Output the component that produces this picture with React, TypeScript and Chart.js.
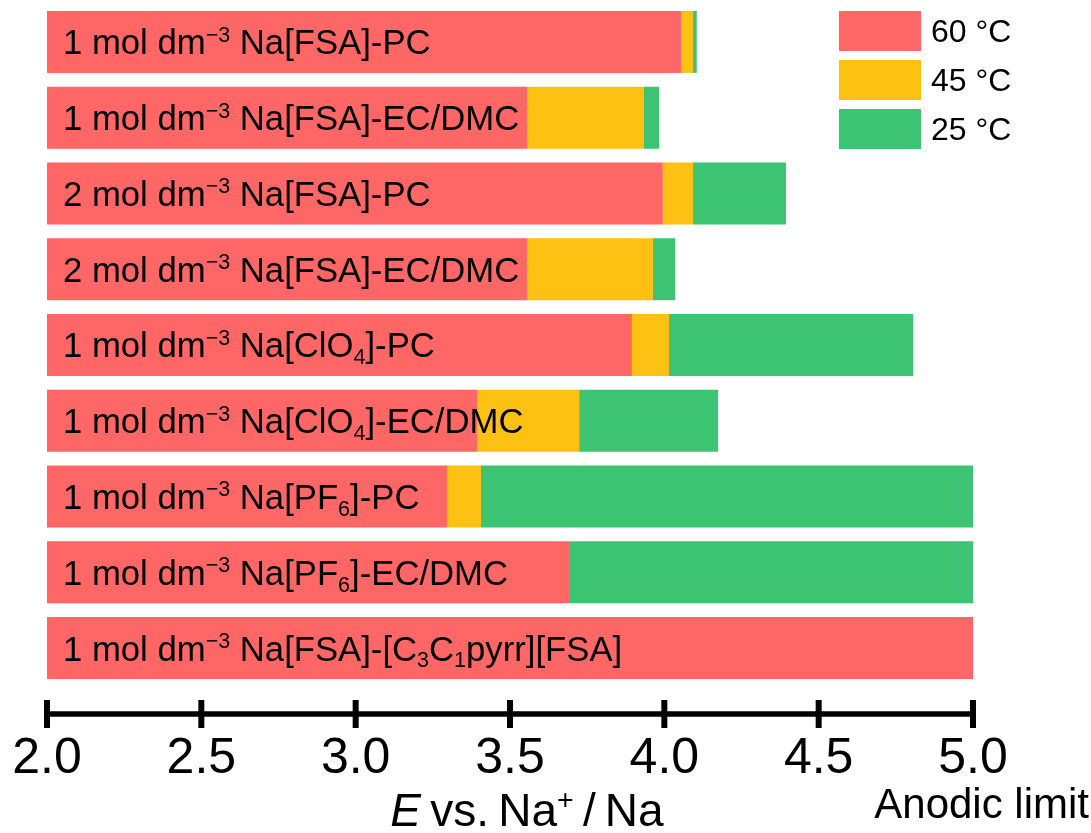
import React, { useEffect, useRef } from "react";
import { Chart, registerables } from "chart.js";

Chart.register(...registerables);

// ---------- data ----------
const categories: string[] = [
  "1 mol dm^{−3} Na[FSA]-PC",
  "1 mol dm^{−3} Na[FSA]-EC/DMC",
  "2 mol dm^{−3} Na[FSA]-PC",
  "2 mol dm^{−3} Na[FSA]-EC/DMC",
  "1 mol dm^{−3} Na[ClO_{4}]-PC",
  "1 mol dm^{−3} Na[ClO_{4}]-EC/DMC",
  "1 mol dm^{−3} Na[PF_{6}]-PC",
  "1 mol dm^{−3} Na[PF_{6}]-EC/DMC",
  "1 mol dm^{−3} Na[FSA]-[C_{3}C_{1}pyrr][FSA]",
];
const seriesLabels: string[] = ["60 °C", "45 °C", "25 °C"];
const seriesColors: string[] = ["#FF6666", "#FDC113", "#3CC472"];
const baseValue = 2.0;
const limit60: (number | null)[] = [4.054, 3.555, 3.995, 3.555, 3.895, 3.393, 3.296, 3.691, 5.0];
const limit45: (number | null)[] = [4.093, 3.934, 4.093, 3.963, 4.015, 3.724, 3.406, null, null];
const limit25: (number | null)[] = [4.105, 3.983, 4.394, 4.035, 4.806, 4.174, 5.0, 5.0, null];
const xTickValues: number[] = [2.0, 2.5, 3.0, 3.5, 4.0, 4.5, 5.0];
const xMin = 2.0;
const xMax = 5.0;
const axisTitle = "_E_\u2009vs.\u2009Na^{+}\u2009/\u2009Na";
const endNote = "Anodic limit";

// ---------- rich text helpers ----------
type Seg = { t: string; k: "n" | "sup" | "sub" | "i" };
function parseRich(s: string): Seg[] {
  const out: Seg[] = [];
  const re = /([\^_])\{([^}]*)\}|_([^_]+)_/g;
  let last = 0;
  let m: RegExpExecArray | null;
  while ((m = re.exec(s))) {
    if (m.index > last) out.push({ t: s.slice(last, m.index), k: "n" });
    if (m[3] !== undefined) out.push({ t: m[3], k: "i" });
    else out.push({ t: m[2], k: m[1] === "^" ? "sup" : "sub" });
    last = re.lastIndex;
  }
  if (last < s.length) out.push({ t: s.slice(last), k: "n" });
  return out;
}
const FAMILY = '"Liberation Sans", Arial, Helvetica, sans-serif';
function segFont(k: Seg["k"], size: number) {
  const fs = k === "sup" || k === "sub" ? size * 0.62 : size;
  return `${k === "i" ? "italic " : ""}${fs}px ${FAMILY}`;
}
function richWidth(ctx: CanvasRenderingContext2D, segs: Seg[], size: number) {
  let w = 0;
  for (const s of segs) {
    ctx.font = segFont(s.k, size);
    w += ctx.measureText(s.t).width;
  }
  return w;
}
function drawRich(ctx: CanvasRenderingContext2D, segs: Seg[], x: number, y: number, size: number) {
  ctx.textBaseline = "alphabetic";
  ctx.textAlign = "left";
  for (const s of segs) {
    ctx.font = segFont(s.k, size);
    const dy = s.k === "sup" ? -size * 0.36 : s.k === "sub" ? size * 0.2 : 0;
    ctx.fillText(s.t, x, y + dy);
    x += ctx.measureText(s.t).width;
  }
}

// ---------- plugins ----------
const decorPlugin = {
  id: "decor",
  afterDatasetsDraw(chart: any) {
    const ctx: CanvasRenderingContext2D = chart.ctx;
    const xs = chart.scales.x;
    const ys = chart.scales.y;
    ctx.save();
    ctx.fillStyle = "#000";
    const size = 34.7;
    categories.forEach((label, i) => {
      const yc = ys.getPixelForValue(i);
      drawRich(ctx, parseRich(label), xs.left + 16, yc + size * 0.716 / 2, size);
    });
    ctx.restore();
  },
  afterDraw(chart: any) {
    const ctx: CanvasRenderingContext2D = chart.ctx;
    const xs = chart.scales.x;
    const area = chart.chartArea;
    ctx.save();
    // axis line with crossing ticks
    const yAxis = area.bottom + 28;
    ctx.strokeStyle = "#000";
    ctx.lineWidth = 5.5;
    ctx.beginPath();
    ctx.moveTo(xs.getPixelForValue(xMin) - 3, yAxis);
    ctx.lineTo(xs.getPixelForValue(xMax) + 3, yAxis);
    ctx.stroke();
    ctx.lineWidth = 6;
    xTickValues.forEach((v) => {
      const px = xs.getPixelForValue(v);
      ctx.beginPath();
      ctx.moveTo(px, yAxis - 14);
      ctx.lineTo(px, yAxis + 14);
      ctx.stroke();
    });
    // axis title
    ctx.fillStyle = "#000";
    const tSize = 46;
    const tSegs = parseRich(axisTitle);
    const tw = richWidth(ctx, tSegs, tSize);
    drawRich(ctx, tSegs, 527 - tw / 2, 826, tSize);
    // end note
    ctx.font = `42px ${FAMILY}`;
    ctx.textAlign = "right";
    ctx.textBaseline = "alphabetic";
    ctx.fillText(endNote, 1089, 818);
    // legend
    const ds = chart.data.datasets;
    ds.forEach((d: any, i: number) => {
      const top = 11 + i * 49;
      ctx.fillStyle = d.backgroundColor;
      ctx.fillRect(839, top, 82, 40);
      ctx.fillStyle = "#000";
      ctx.font = `32px ${FAMILY}`;
      ctx.textAlign = "left";
      ctx.textBaseline = "alphabetic";
      ctx.fillText(d.label, 931, top + 20 + 32 * 0.716 / 2);
    });
    ctx.restore();
  },
};

export default function App() {
  const canvasRef = useRef<HTMLCanvasElement | null>(null);
  useEffect(() => {
    if (!canvasRef.current) return;
    const d60 = limit60.map((v) => (v == null ? null : [baseValue, v]));
    const d45 = limit45.map((v, i) => (v == null ? null : [limit60[i] as number, v]));
    const d25 = limit25.map((v, i) =>
      v == null ? null : [(limit45[i] ?? limit60[i]) as number, v]
    );
    const chart = new Chart(canvasRef.current, {
      type: "bar",
      data: {
        labels: categories,
        datasets: [d60, d45, d25].map((data, i) => ({
          label: seriesLabels[i],
          data: data as any,
          backgroundColor: seriesColors[i],
          borderWidth: 0,
          grouped: false,
          barPercentage: 0.818,
          categoryPercentage: 1,
        })),
      },
      options: {
        indexAxis: "y",
        animation: false,
        responsive: true,
        maintainAspectRatio: false,
        layout: { padding: { left: 47, right: 118, top: 4, bottom: 0 } },
        plugins: { legend: { display: false }, tooltip: { enabled: false } },
        scales: {
          x: {
            type: "linear",
            position: "bottom",
            min: xMin,
            max: xMax,
            grid: { display: false, drawTicks: false },
            border: { display: false },
            ticks: {
              stepSize: 0.5,
              color: "#000",
              padding: 43,
              font: { size: 50, family: FAMILY },
              callback: (v: any) => Number(v).toFixed(1),
            },
            afterFit: (scale: any) => {
              scale.height = 147;
              scale.paddingLeft = 0;
              scale.paddingRight = 0;
            },
          },
          y: {
            type: "category",
            display: false,
            offset: true,
            grid: { display: false },
          },
        },
      },
      plugins: [decorPlugin],
    });
    return () => chart.destroy();
  }, []);
  return (
    <div style={{ position: "fixed", left: 0, top: 0, width: 1091, height: 833, background: "#fff" }}>
      <canvas ref={canvasRef} />
    </div>
  );
}
